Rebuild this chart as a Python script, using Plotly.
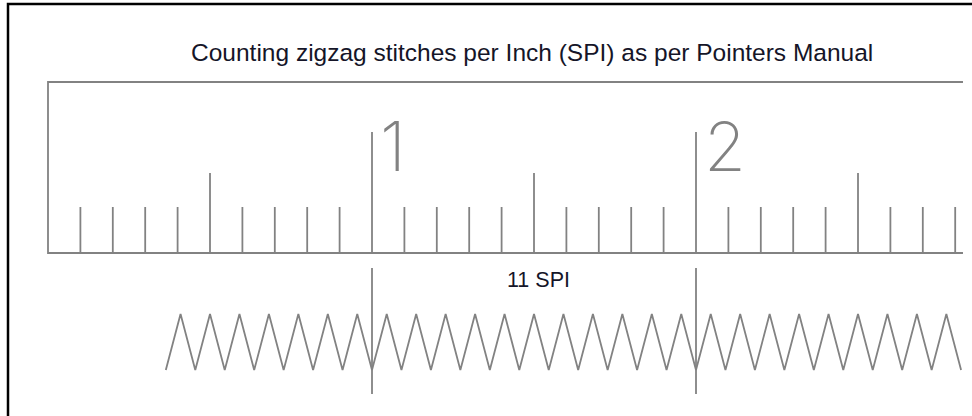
import plotly.graph_objects as go

# ---- data ----
title_text = "Counting zigzag stitches per Inch (SPI) as per Pointers Manual"
inch_marks = [1, 2]
inch_labels = ["1", "2"]
ruler_start_in = 0.0
ruler_end_in = 2.824
divisions_per_inch = 10
spi = 11
spi_label = "11 SPI"
stitch_start_in = 1 - 7 / 11
stitch_count = 27  # full zigzags drawn

# ---- style constants (pixel-like y units, 0 at top) ----
GRAY = "#828282"
Y_TOP, Y_BASE = 82, 253
Y_INCH, Y_HALF, Y_TENTH = 132, 173, 207
Y_PEAK, Y_VALLEY = 314, 370
Y_MARK0, Y_MARK1 = 268, 394

# ruler outline
rx = [ruler_end_in, ruler_start_in, ruler_start_in, ruler_end_in]
ry = [Y_TOP, Y_TOP, Y_BASE, Y_BASE]

# ticks
tx, ty = [], []
n_ticks = int(round((ruler_end_in - ruler_start_in) * divisions_per_inch))
for i in range(1, n_ticks + 1):
    pos = ruler_start_in + i / divisions_per_inch
    if pos > ruler_end_in:
        break
    if i % divisions_per_inch == 0:
        top = Y_INCH
    elif i % (divisions_per_inch // 2) == 0:
        top = Y_HALF
    else:
        top = Y_TENTH
    tx += [pos, pos, None]
    ty += [top, Y_BASE, None]

# zigzag
zx, zy = [], []
for k in range(stitch_count + 1):
    v = stitch_start_in + k / spi
    zx.append(v)
    zy.append(Y_VALLEY)
    if k < stitch_count:
        zx.append(v + 0.5 / spi)
        zy.append(Y_PEAK)

# inch markers under the ruler
mx, my = [], []
for m in inch_marks:
    mx += [m, m, None]
    my += [Y_MARK0, Y_MARK1, None]

fig = go.Figure()
line = dict(color=GRAY, width=1.8)
fig.add_trace(go.Scatter(x=rx, y=ry, mode="lines", line=line, hoverinfo="skip"))
fig.add_trace(go.Scatter(x=tx, y=ty, mode="lines", line=line, hoverinfo="skip"))
fig.add_trace(go.Scatter(x=zx, y=zy, mode="lines", line=line, hoverinfo="skip"))
fig.add_trace(go.Scatter(x=mx, y=my, mode="lines", line=line, hoverinfo="skip"))

for m, lab in zip(inch_marks, inch_labels):
    fig.add_annotation(
        x=m, y=Y_BASE - 64, xref="x", yref="y", text=lab, showarrow=False,
        xanchor="left", yanchor="bottom", xshift=6,
        font=dict(family="Inter", size=68, color=GRAY, weight=200),
    )

fig.add_annotation(
    x=1.5, y=52, xref="x", yref="y",
    text=title_text, showarrow=False, xanchor="center", yanchor="middle",
    xshift=-2,
    font=dict(family="Liberation Sans", size=24.5, color="#151528"),
)
fig.add_annotation(
    x=1.5, y=280, xref="x", yref="y", text=spi_label, showarrow=False,
    xanchor="center", yanchor="middle", xshift=4,
    font=dict(family="Liberation Sans", size=21.5, color="#151528"),
)

# outer frame
fig.add_shape(type="rect", xref="paper", yref="paper",
              x0=8 / 972, x1=1.02, y0=-0.02, y1=1 - 4 / 416,
              line=dict(color="black", width=2.5))

fig.update_layout(
    width=972, height=416, margin=dict(l=0, r=0, t=0, b=0),
    paper_bgcolor="white", plot_bgcolor="white", showlegend=False,
    xaxis=dict(range=[-48 / 324, (972 - 48) / 324], visible=False, fixedrange=True),
    yaxis=dict(range=[416, 0], visible=False, fixedrange=True),
)

fig.write_html(
    "out.html",
    config={"displayModeBar": False, "staticPlot": True},
    post_script="document.body.style.margin='0';document.body.style.overflow='hidden';",
)
